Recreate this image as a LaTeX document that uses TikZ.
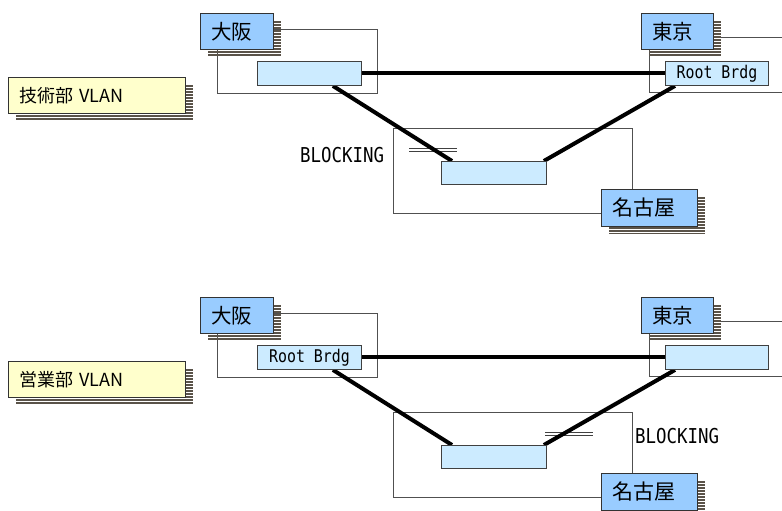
\documentclass[tikz,border=0pt]{standalone}
\usepackage{fontspec}
\setmainfont{Noto Sans CJK JP}
\newfontfamily\monofnt[FakeStretch=0.85]{DejaVu Sans Mono}
\definecolor{tagblue}{HTML}{99CCFF}
\definecolor{swblue}{HTML}{CCEBFF}
\definecolor{vlanyellow}{HTML}{FFFFCC}
\definecolor{stripecol}{HTML}{5A5349}
\definecolor{framecol}{HTML}{505050}

\tikzset{
  site/.style={draw=framecol, line width=0.9pt, anchor=north west, inner sep=0pt},
  switchbox/.style={draw=black!75, fill=swblue, line width=0.9pt, anchor=north west,
    inner sep=0pt, font=\monofnt\fontsize{17.5}{18}\selectfont},
  tag/.style={draw=black!80, line width=0.9pt, inner ysep=0pt, inner xsep=11pt,
    align=left, font=\fontsize{20}{22}\selectfont},
  trunk/.style={line width=4pt, line cap=butt},
  blockbar/.style={draw=black!75, line width=1pt},
  stripeline/.style={draw=stripecol, line width=2.1pt},
  blocktext/.style={font=\monofnt\fontsize{20.5}{22}\selectfont, inner sep=0pt}
}

% label box with a striped drop shadow: name, x1, y1, x2, y2, fill, font size, text
\newcommand\tagbox[8]{%
  \begin{scope}
    \clip (#2+8,#3+8) rectangle (#4+8,#5+7);
    \foreach \k in {0,...,16}
      \draw[stripeline] (#2+8,#3+9+3*\k) -- (#4+8,#3+9+3*\k);
  \end{scope}
  \pgfmathsetmacro\tagw{#4-#2-22}%
  \pgfmathsetmacro\tagh{#5-#3}%
  \node[tag, fill=#6, text width=\tagw pt, minimum height=\tagh pt, anchor=north west,
    font=\fontsize{#7}{#7}\selectfont] (#1) at (#2,#3) {#8};
}

\begin{document}
\begin{tikzpicture}[x=1pt, y=-1pt]
\useasboundingbox (0,0) rectangle (782,511);
\clip (0,0) rectangle (782,511);

% ---------------- upper VLAN ----------------
\node[site, minimum width=160pt, minimum height=64pt] (ositeA) at (217,29) {};
\node[site, minimum width=160pt, minimum height=55pt] (tsiteA) at (649,37) {};
\node[site, minimum width=239pt, minimum height=85pt] (nsiteA) at (393,128) {};

\draw[blockbar] (409,148) -- (457,148);
\draw[blockbar] (409,151) -- (457,151);
\node[blocktext, anchor=west] (blkA) at (300,155) {BLOCKING};

\coordinate (oswAnw) at (257,61);
\coordinate (tswAnw) at (665,61);
\coordinate (nswAnw) at (441,161);
\node[switchbox, minimum width=104pt, minimum height=24pt] (oswA) at (oswAnw) {};
\node[switchbox, minimum width=103pt, minimum height=24pt] (tswA) at (tswAnw) {Root Brdg};
\node[switchbox, minimum width=105pt, minimum height=23pt] (nswA) at (nswAnw) {};

\draw[trunk] (oswA.east) -- (tswA.west);
\draw[trunk] ([xshift=-29pt]oswA.south east) -- ([xshift=11pt]nswA.north west);
\draw[trunk] ([xshift=-3pt]nswA.north east) -- ([xshift=10pt]tswA.south west);
\node[switchbox, minimum width=104pt, minimum height=24pt] at (oswAnw) {};
\node[switchbox, minimum width=105pt, minimum height=23pt] at (nswAnw) {};
\node[switchbox, minimum width=103pt, minimum height=24pt] at (tswAnw) {Root Brdg};

\tagbox{vlanA}{8}{77}{185}{113}{vlanyellow}{18}{技術部 VLAN}
\tagbox{otagA}{200}{13}{273}{49}{tagblue}{20.5}{大阪}
\tagbox{ttagA}{641}{13}{713}{49}{tagblue}{20.5}{東京}
\tagbox{ntagA}{601}{189}{697}{226}{tagblue}{21}{名古屋}

% ---------------- lower VLAN ----------------
\node[site, minimum width=160pt, minimum height=64pt] (ositeB) at (217,313) {};
\node[site, minimum width=160pt, minimum height=55pt] (tsiteB) at (649,321) {};
\node[site, minimum width=239pt, minimum height=85pt] (nsiteB) at (393,412) {};

\draw[blockbar] (545,432) -- (593,432);
\draw[blockbar] (545,435) -- (593,435);
\node[blocktext, anchor=west] (blkB) at (635,436) {BLOCKING};

\coordinate (oswBnw) at (257,345);
\coordinate (tswBnw) at (665,345);
\coordinate (nswBnw) at (441,445);
\node[switchbox, minimum width=104pt, minimum height=24pt] (oswB) at (oswBnw) {Root Brdg};
\node[switchbox, minimum width=103pt, minimum height=24pt] (tswB) at (tswBnw) {};
\node[switchbox, minimum width=105pt, minimum height=23pt] (nswB) at (nswBnw) {};

\draw[trunk] (oswB.east) -- (tswB.west);
\draw[trunk] ([xshift=-29pt]oswB.south east) -- ([xshift=11pt]nswB.north west);
\draw[trunk] ([xshift=-3pt]nswB.north east) -- ([xshift=10pt]tswB.south west);
\node[switchbox, minimum width=104pt, minimum height=24pt] at (oswBnw) {Root Brdg};
\node[switchbox, minimum width=103pt, minimum height=24pt] at (tswBnw) {};
\node[switchbox, minimum width=105pt, minimum height=23pt] at (nswBnw) {};

\tagbox{vlanB}{8}{361}{185}{397}{vlanyellow}{18}{営業部 VLAN}
\tagbox{otagB}{200}{297}{273}{333}{tagblue}{20.5}{大阪}
\tagbox{ttagB}{641}{297}{713}{333}{tagblue}{20.5}{東京}
\tagbox{ntagB}{601}{473}{697}{510}{tagblue}{21}{名古屋}
\end{tikzpicture}
\end{document}
